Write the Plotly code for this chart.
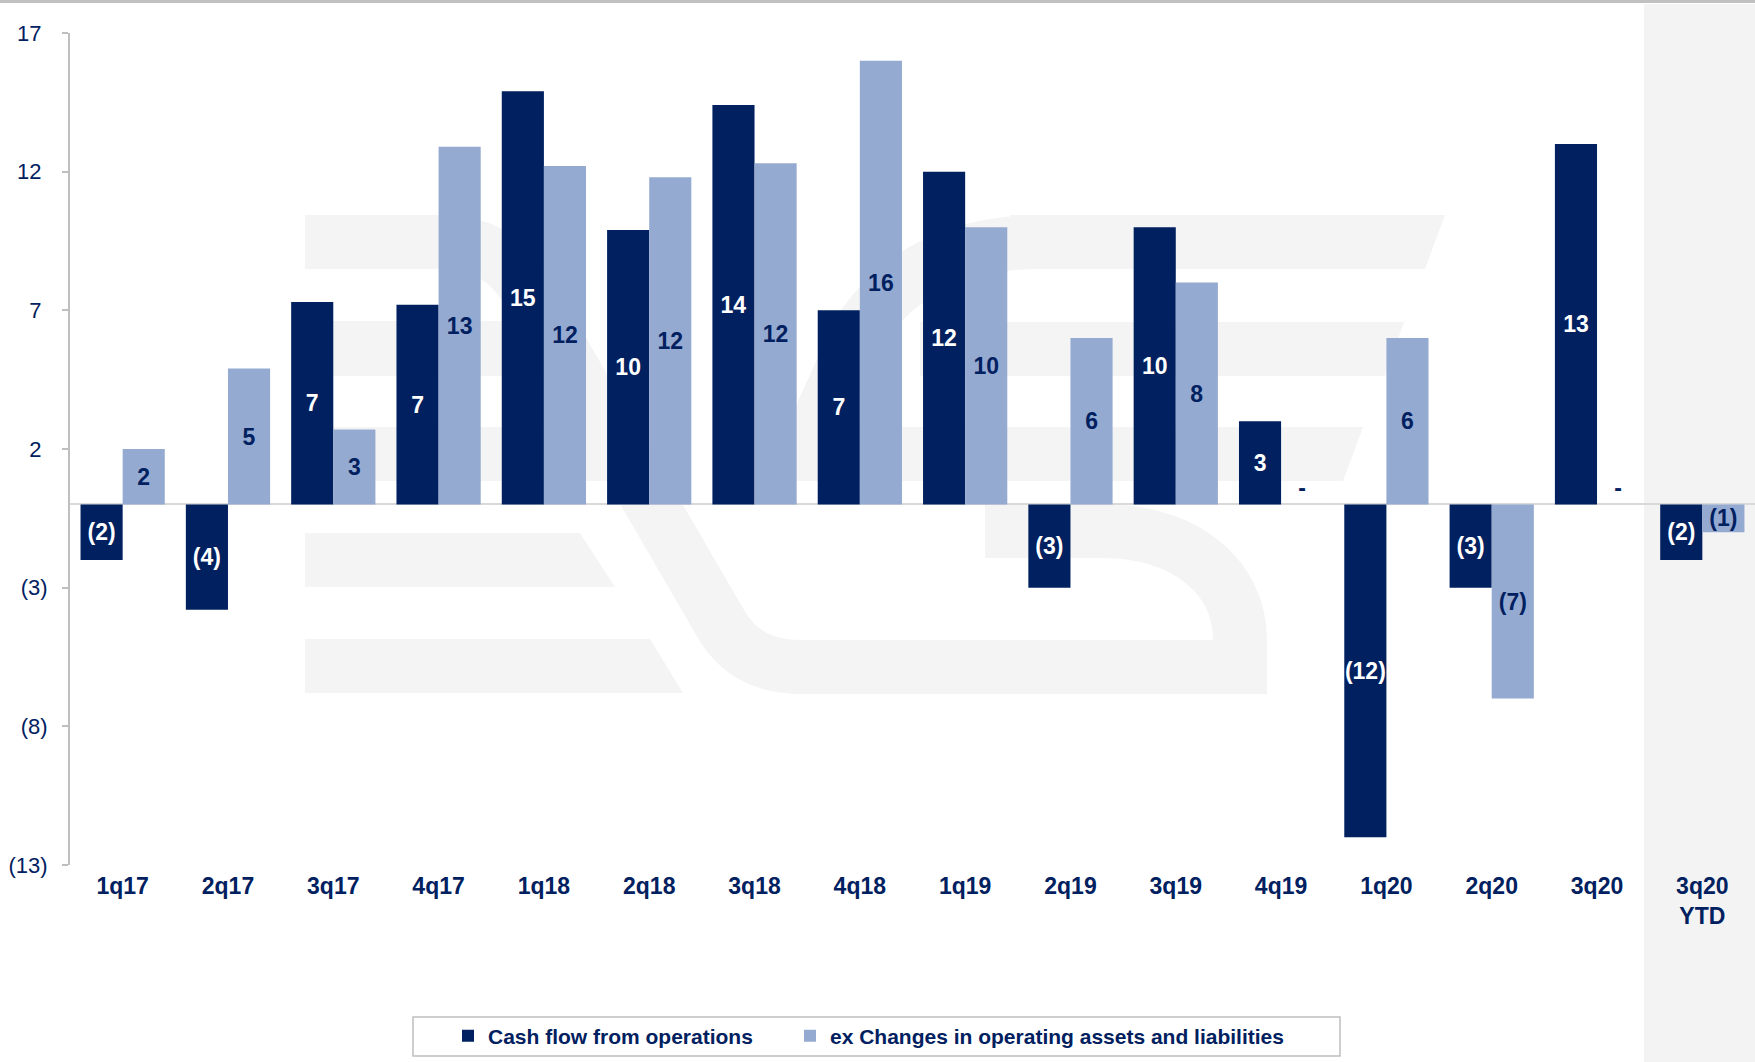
import plotly.graph_objects as go

# ---- data -------------------------------------------------------------
quarters = ["1q17", "2q17", "3q17", "4q17", "1q18", "2q18", "3q18", "4q18",
            "1q19", "2q19", "3q19", "4q19", "1q20", "2q20", "3q20", "3q20<br>YTD"]

cash_flow_ops = [-2.0, -3.8, 7.3, 7.2, 14.9, 9.9, 14.4, 7.0,
                 12.0, -3.0, 10.0, 3.0, -12.0, -3.0, 13.0, -2.0]

ex_changes_op = [2.0, 4.9, 2.7, 12.9, 12.2, 11.8, 12.3, 16.0,
                 10.0, 6.0, 8.0, 0.0, 6.0, -7.0, 0.0, -1.0]

y_ticks = [-13, -8, -3, 2, 7, 12, 17]

# ---- styling ----------------------------------------------------------
NAVY = "#002060"
LIGHT = "#95aad1"
FONT = "Liberation Sans, Arial, sans-serif"

W, H = 1755, 1062
M_L, M_T, M_B = 70, 33, 197
PW, PH = W - M_L, H - M_T - M_B
BOTTOM = H - M_B


def fmt(v):
    """Accounting style: negatives in parentheses, zero as a dash."""
    if round(v) == 0:
        return "-"
    if v < 0:
        return f"({abs(v):.0f})"
    return f"{v:.0f}"


def positions(vals):
    return ["outside" if round(v) == 0 else "inside" for v in vals]


def tick_text(v):
    # positive numbers keep a trailing space the width of ")"
    return f"({abs(v)})" if v < 0 else f"{v}\u00a0"


def pp(x, y):
    """pixel -> paper coordinates (for decorative shapes)"""
    return f"{(x - M_L) / PW:.5f},{(BOTTOM - y) / PH:.5f}"


def poly(points):
    return "M " + " L ".join(pp(*p) for p in points) + " Z"


fig = go.Figure()

fig.add_bar(
    x=quarters, y=cash_flow_ops, name="Cash flow from operations",
    marker=dict(color=NAVY, line=dict(width=0)),
    text=[fmt(v) for v in cash_flow_ops], textposition=positions(cash_flow_ops),
    textangle=0, insidetextanchor="middle", constraintext="none", cliponaxis=False,
    textfont=dict(family=FONT, size=23, color="white", weight="bold"),
    outsidetextfont=dict(family=FONT, size=23, color=NAVY, weight="bold"),
    legendwidth=297,
    hoverinfo="skip",
)
fig.add_bar(
    x=quarters, y=ex_changes_op, name="ex Changes in operating assets and liabilities",
    marker=dict(color=LIGHT, line=dict(width=0)),
    text=[fmt(v) for v in ex_changes_op], textposition=positions(ex_changes_op),
    textangle=0, insidetextanchor="middle", constraintext="none", cliponaxis=False,
    textfont=dict(family=FONT, size=23, color=NAVY, weight="bold"),
    outsidetextfont=dict(family=FONT, size=23, color=NAVY, weight="bold"),
    hoverinfo="skip",
)

# ---- background decoration: faint logo, YTD panel, frame lines --------
WM = "#f3f4f3"
shapes = []
for pts in [
    # left letter bars
    [(305, 321), (561, 321), (561, 376), (305, 376)],
    [(305, 427), (622, 427), (622, 481), (305, 481)],
    [(305, 533), (580, 533), (615, 587), (305, 587)],
    [(305, 639), (650, 639), (683, 693), (305, 693)],
    # right letter bars
    [(1010, 215), (1445, 215), (1425, 269), (1010, 269)],
    [(920, 322), (1404, 322), (1385, 376), (920, 376)],
    [(780, 427), (1363, 427), (1343, 481), (780, 481)],
    [(790, 640), (1267, 640), (1267, 694), (790, 694)],
]:
    shapes.append(dict(type="path", xref="paper", yref="paper", layer="below",
                       path=poly(pts), fillcolor=WM, line=dict(width=0)))
# sweeping strokes
strokes = [
    f"M {pp(305, 242)} L {pp(440, 242)} Q {pp(500, 242)} {pp(527, 290)} "
    f"L {pp(721, 624)} Q {pp(746, 667)} {pp(800, 667)} L {pp(900, 667)}",
    f"M {pp(985, 531)} L {pp(1100, 531)} C {pp(1190, 531)} {pp(1240, 580)} {pp(1240, 640)} "
    f"L {pp(1240, 667)}",
    f"M {pp(1040, 242)} Q {pp(920, 242)} {pp(860, 330)} L {pp(810, 440)}",
]
for s in strokes:
    shapes.append(dict(type="path", xref="paper", yref="paper", layer="below",
                       path=s, fillcolor="rgba(0,0,0,0)",
                       line=dict(color=WM, width=54)))

# YTD panel
shapes.append(dict(type="rect", xref="paper", yref="paper", layer="below",
                   x0=(1644 - M_L) / PW, x1=1.0,
                   y0=(BOTTOM - H) / PH, y1=(BOTTOM - 4) / PH,
                   fillcolor="#f3f3f3", line=dict(width=0)))
# top rule
shapes.append(dict(type="line", xref="paper", yref="paper", layer="above",
                   x0=-M_L / PW, x1=1.0, y0=(BOTTOM - 1.5) / PH, y1=(BOTTOM - 1.5) / PH,
                   line=dict(color="#c0c0c0", width=3)))
# legend frame
shapes.append(dict(type="rect", xref="paper", yref="paper", layer="below",
                   x0=(413 - M_L) / PW, x1=(1340 - M_L) / PW,
                   y0=(BOTTOM - 1056) / PH, y1=(BOTTOM - 1017) / PH,
                   fillcolor="white", line=dict(color="#bfbfbf", width=1.5)))

fig.update_layout(
    width=W, height=H,
    margin=dict(l=M_L, r=0, t=M_T, b=M_B, autoexpand=False),
    paper_bgcolor="white", plot_bgcolor="rgba(0,0,0,0)",
    font=dict(family=FONT, color=NAVY),
    barmode="group", bargap=0.2, bargroupgap=0,
    uniformtext=dict(mode="show", minsize=23),
    shapes=shapes,
    showlegend=True,
    legend=dict(
        orientation="h", x=(448 - M_L) / PW, xanchor="left",
        y=(BOTTOM - 1036) / PH, yanchor="middle",
        font=dict(family=FONT, size=21, color=NAVY, weight="bold"),
        bgcolor="rgba(0,0,0,0)", borderwidth=0, traceorder="normal",
    ),
    xaxis=dict(
        type="category", showgrid=False, showline=False, ticks="",
        zeroline=False, automargin=False, ticklabelstandoff=5,
        tickfont=dict(family=FONT, size=23, color=NAVY, weight="bold"),
    ),
    yaxis=dict(
        range=[-13, 17], tickvals=y_ticks, ticktext=[tick_text(v) for v in y_ticks],
        showgrid=False, showline=True, linecolor="#bfbfbf", linewidth=2,
        ticks="outside", ticklen=6, tickwidth=2, tickcolor="#bfbfbf",
        zeroline=True, zerolinecolor="#d9d9d9", zerolinewidth=2,
        tickfont=dict(family=FONT, size=22, color=NAVY),
        ticklabelstandoff=10, automargin=False,
    ),
)

fig.write_html("out.html")
